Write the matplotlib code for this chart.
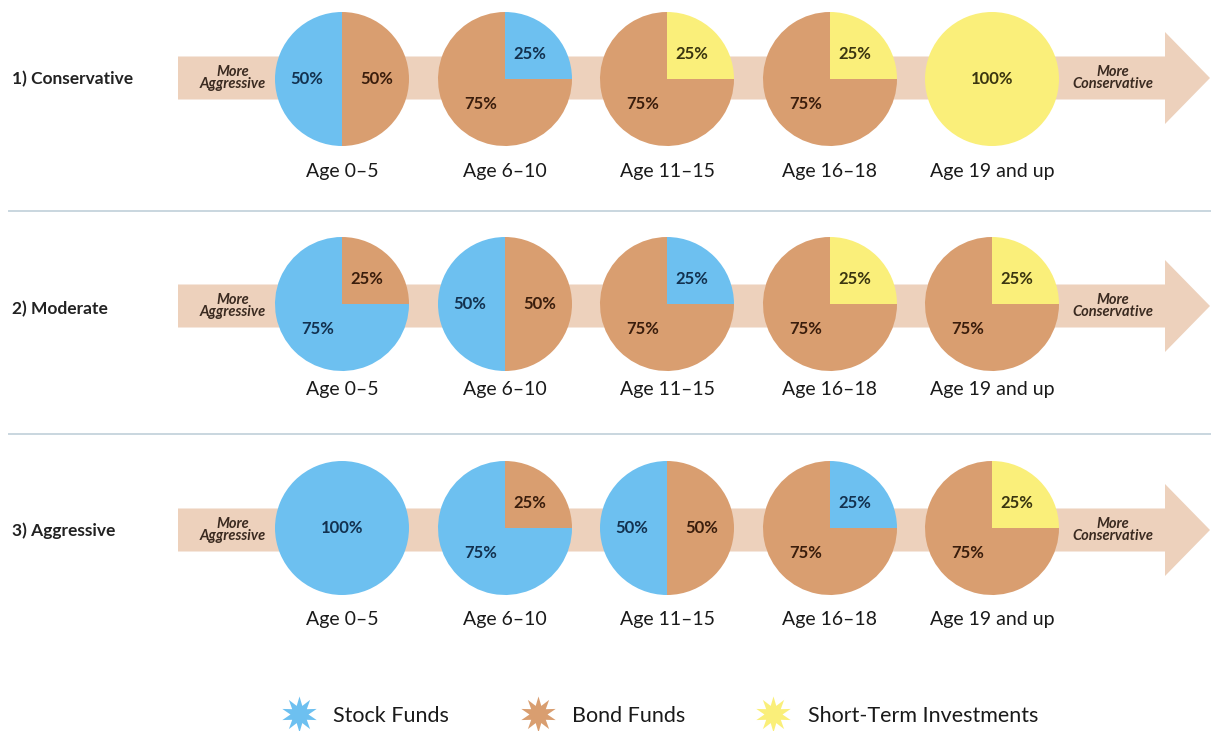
import matplotlib
matplotlib.use("Agg")
import matplotlib.pyplot as plt
from matplotlib.patches import FancyArrow
from matplotlib.lines import Line2D

# ---------------- data ----------------
row_labels = ["1) Conservative", "2) Moderate", "3) Aggressive"]
age_labels = ["Age 0\u20135", "Age 6\u201310", "Age 11\u201315", "Age 16\u201318", "Age 19 and up"]
categories = ["Stock Funds", "Bond Funds", "Short-Term Investments"]
stock_pct = [[50, 25, 0, 0, 0],
             [75, 50, 25, 0, 0],
             [100, 75, 50, 25, 0]]
bond_pct = [[50, 75, 75, 75, 0],
            [25, 50, 75, 75, 75],
            [0, 25, 50, 75, 75]]
short_pct = [[0, 0, 25, 25, 100],
             [0, 0, 0, 25, 25],
             [0, 0, 0, 0, 25]]

# ---------------- style ----------------
colors = {"Stock Funds": "#6DC0F0", "Bond Funds": "#D99E70",
          "Short-Term Investments": "#FAEF7A"}
text_colors = {"Stock Funds": "#13314F", "Bond Funds": "#3A1D0C",
               "Short-Term Investments": "#3A3510"}
arrow_color = "#EDD1BC"
FONT = ["Lato", "DejaVu Sans"]
plt.rcParams["font.family"] = FONT

W, H = 1211, 731
fig = plt.figure(figsize=(W / 100, H / 100), dpi=100)
ax = fig.add_axes([0, 0, 1, 1])


def Y(y):
    return H - y


pie_x = [342, 505, 667, 830, 992]
row_y = [79, 304, 528]
arrow_y = [78, 306, 530]
age_y = [171, 390, 619]
label_y = [79, 309, 531]
R = 67

for r in range(3):
    # arrow
    ax.add_patch(FancyArrow(178, Y(arrow_y[r]), 1210 - 178, 0, width=43,
                            head_width=92, head_length=45,
                            length_includes_head=True, color=arrow_color,
                            lw=0, zorder=1))
    ax.text(233, Y(arrow_y[r]), "More\nAggressive", ha="center", va="center",
            fontsize=10.5, style="italic", fontweight="bold", color="#3A2A20",
            linespacing=0.8, zorder=3)
    ax.text(1113, Y(arrow_y[r]), "More\nConservative", ha="center", va="center",
            fontsize=10.5, style="italic", fontweight="bold", color="#3A2A20",
            linespacing=0.8, zorder=3)
    ax.text(12, Y(label_y[r]), row_labels[r], ha="left", va="center",
            fontsize=12.5, fontweight="bold", color="#222222")

    for c in range(5):
        vals = {"Stock Funds": stock_pct[r][c], "Bond Funds": bond_pct[r][c],
                "Short-Term Investments": short_pct[r][c]}
        items = [(v, 0 if k == "Bond Funds" else 1, k) for k, v in vals.items() if v > 0]
        items.sort()
        sizes = [it[0] for it in items]
        cats = [it[2] for it in items]
        single = len(sizes) == 1
        wedges, texts, autotexts = ax.pie(
            sizes, colors=[colors[k] for k in cats], startangle=90,
            counterclock=False, center=(pie_x[c], Y(row_y[r])), radius=R,
            autopct="%d%%", pctdistance=0.0 if single else 0.52, frame=True,
            wedgeprops=dict(linewidth=0),
            textprops=dict(fontsize=12, fontweight="bold"))
        for w in wedges:
            w.set_zorder(2)
        for t, k in zip(autotexts, cats):
            t.set_color(text_colors[k])
            t.set_zorder(4)
        ax.text(pie_x[c], Y(age_y[r]), age_labels[c], ha="center", va="center",
                fontsize=14, color="#1A1A1A")

# separators
for ys in [211, 434]:
    ax.plot([9, W], [Y(ys), Y(ys)], color="#C9D6DF", lw=1.4, zorder=0)

ax.set_xlim(0, W)
ax.set_ylim(0, H)
ax.set_aspect("auto")
ax.axis("off")

handles = [Line2D([], [], linestyle="none", marker=(10, 1, 0), markersize=26,
                  markerfacecolor=colors[k], markeredgewidth=0) for k in categories]
leg = ax.legend(handles, categories, loc="center", bbox_to_anchor=(660 / W, 1 - 716 / H),
                ncol=3, frameon=False, fontsize=15.5, handletextpad=0.8,
                columnspacing=3.3, handlelength=1.6)
for t in leg.get_texts():
    t.set_color("#1A1A1A")

fig.savefig("out.png", dpi=100)
